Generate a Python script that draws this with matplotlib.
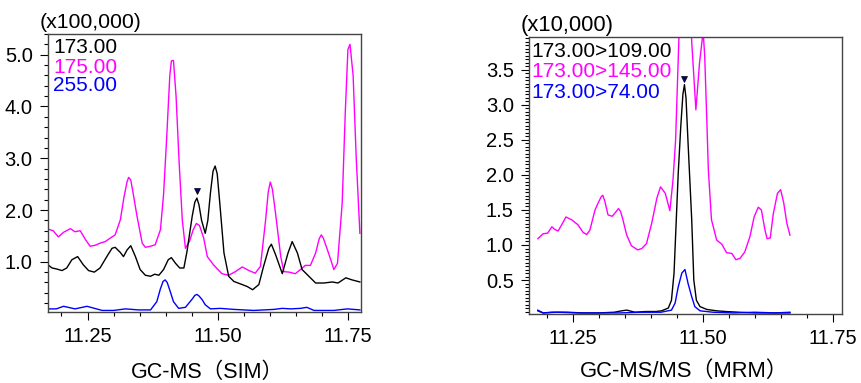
import matplotlib
matplotlib.use("Agg")
from matplotlib import pyplot as plt
from matplotlib.ticker import MultipleLocator, FormatStrFormatter

# ---- GC-MS (SIM), intensity x100,000 ----
sim_173_t = [11.174, 11.182, 11.191, 11.201, 11.210, 11.220, 11.231, 11.242, 11.252, 11.263,
             11.274, 11.287, 11.297, 11.303, 11.313, 11.319, 11.326, 11.333, 11.342, 11.351,
             11.361, 11.371, 11.379, 11.387, 11.396, 11.405, 11.411, 11.419, 11.427, 11.435,
             11.441, 11.451, 11.456, 11.460, 11.464, 11.469, 11.476, 11.481, 11.486, 11.491,
             11.495, 11.499, 11.504, 11.512, 11.521,
             11.531, 11.547, 11.557, 11.567, 11.579, 11.588, 11.598, 11.603, 11.611, 11.624,
             11.635, 11.643, 11.653, 11.662, 11.675, 11.688, 11.704, 11.720, 11.731, 11.746,
             11.758, 11.773]
sim_173_i = [0.94, 0.88, 0.86, 0.83, 0.88, 1.04, 1.10, 0.94, 0.83, 0.80,
             0.88, 1.10, 1.26, 1.28, 1.18, 1.10, 1.23, 1.31, 1.10, 0.85,
             0.74, 0.72, 0.76, 0.74, 0.85, 1.04, 1.08, 0.97, 0.88, 0.88,
             1.20, 1.88, 2.15, 2.23, 2.10, 1.80, 1.55, 1.80, 2.33, 2.75,
             2.85, 2.70, 2.13, 1.17, 0.72,
             0.62, 0.56, 0.52, 0.46, 0.56, 0.91, 1.26, 1.34, 1.14, 0.77,
             1.17, 1.39, 1.17, 0.85, 0.72, 0.59, 0.59, 0.61, 0.59, 0.69,
             0.65, 0.61]

sim_175_t = [11.174, 11.184, 11.194, 11.204, 11.217, 11.226, 11.236, 11.246, 11.255, 11.265,
             11.274, 11.284, 11.294, 11.303, 11.313, 11.320, 11.326, 11.329, 11.333, 11.338,
             11.345, 11.355,
             11.361, 11.371, 11.380, 11.390, 11.396, 11.402, 11.408, 11.411, 11.415, 11.420,
             11.426, 11.432, 11.438, 11.446, 11.453, 11.459, 11.465, 11.473, 11.480, 11.492,
             11.508, 11.521,
             11.534, 11.547, 11.560, 11.572, 11.582, 11.592, 11.597, 11.601, 11.605, 11.611,
             11.621, 11.627,
             11.637, 11.649, 11.659, 11.668, 11.678, 11.688, 11.695, 11.699, 11.703, 11.710,
             11.717, 11.723,
             11.730, 11.739, 11.745, 11.750, 11.754, 11.760, 11.766, 11.773]
sim_175_i = [1.63, 1.60, 1.48, 1.57, 1.64, 1.58, 1.60, 1.43, 1.30, 1.32,
             1.36, 1.39, 1.46, 1.52, 1.81, 2.25, 2.55, 2.63, 2.58, 2.30,
             1.88, 1.36,
             1.28, 1.30, 1.33, 1.62, 2.30, 3.40, 4.60, 4.88, 4.89, 4.20,
             2.90, 1.80, 1.26, 1.40, 1.62, 1.74, 1.70, 1.46, 1.10, 0.94,
             0.77, 0.74,
             0.81, 0.90, 0.83, 0.78, 0.91, 1.81, 2.35, 2.54, 2.40, 1.94,
             1.10, 0.81,
             0.80, 0.77, 0.85, 0.93, 0.93, 1.17, 1.45, 1.52, 1.45, 1.25,
             1.04, 0.85,
             0.97, 2.13, 3.90, 5.10, 5.20, 4.60, 3.00, 1.55]

sim_255_t = [11.174, 11.190, 11.204, 11.226, 11.249, 11.278, 11.300, 11.323, 11.348, 11.371,
             11.383, 11.390, 11.395, 11.399, 11.403, 11.409, 11.415, 11.425, 11.438, 11.451,
             11.456, 11.460, 11.464, 11.470,
             11.476, 11.486, 11.505, 11.531, 11.569, 11.608, 11.624, 11.640, 11.659, 11.671,
             11.685, 11.723, 11.749, 11.773]
sim_255_i = [0.09, 0.09, 0.14, 0.09, 0.14, 0.06, 0.06, 0.09, 0.07, 0.07,
             0.23, 0.48, 0.62, 0.65, 0.60, 0.42, 0.23, 0.10, 0.12, 0.28,
             0.35, 0.37, 0.34, 0.27,
             0.17, 0.09, 0.10, 0.08, 0.06, 0.08, 0.10, 0.09, 0.10, 0.12,
             0.06, 0.06, 0.09, 0.07]

sim_peak_t = [11.460]
sim_peak_i = [2.36]

# ---- GC-MS/MS (MRM), intensity x10,000 ----
mrm_109_t = [11.183, 11.193, 11.210, 11.240, 11.270, 11.300, 11.330, 11.344, 11.354, 11.370,
             11.390, 11.410, 11.421, 11.434, 11.440, 11.445, 11.449, 11.453, 11.458, 11.462,
             11.465, 11.468, 11.472, 11.479, 11.483, 11.488, 11.495, 11.508, 11.527, 11.545,
             11.570, 11.600, 11.630, 11.668]
mrm_109_i = [0.06, 0.03, 0.04, 0.04, 0.03, 0.03, 0.04, 0.06, 0.07, 0.04,
             0.05, 0.05, 0.06, 0.10, 0.21, 0.60, 1.31, 2.02, 2.70, 3.15,
             3.29, 3.10, 2.45, 1.36, 0.50, 0.21, 0.12, 0.08, 0.06, 0.05,
             0.04, 0.03, 0.03, 0.03]

mrm_145_t = [11.183, 11.193, 11.202, 11.210, 11.216, 11.222, 11.229, 11.237, 11.248, 11.260,
             11.270, 11.277, 11.283, 11.293, 11.299, 11.305, 11.308, 11.312, 11.318, 11.326,
             11.334, 11.338, 11.342, 11.346,
             11.354, 11.363, 11.375, 11.383, 11.392, 11.402, 11.412, 11.419, 11.428, 11.437,
             11.443, 11.448, 11.455, 11.460, 11.466, 11.472, 11.479, 11.487, 11.494, 11.501,
             11.504, 11.508, 11.511, 11.517, 11.527, 11.537, 11.546, 11.556, 11.564, 11.572,
             11.581, 11.591, 11.599, 11.607, 11.613, 11.620, 11.624, 11.630, 11.636, 11.644,
             11.650, 11.656, 11.662, 11.668]
mrm_145_i = [1.09, 1.16, 1.17, 1.26, 1.22, 1.20, 1.29, 1.40, 1.36, 1.29,
             1.18, 1.15, 1.21, 1.50, 1.60, 1.69, 1.71, 1.62, 1.43, 1.41,
             1.48, 1.52, 1.48, 1.38,
             1.14, 0.99, 0.93, 0.95, 1.02, 1.31, 1.67, 1.83, 1.74, 1.49,
             1.93, 2.50, 4.10, 5.60, 6.00, 5.40, 3.90, 2.93, 3.60, 4.05,
             3.69, 2.79, 2.07, 1.36, 1.07, 1.01, 0.89, 0.88, 0.79, 0.81,
             0.90, 1.12, 1.40, 1.54, 1.50, 1.21, 1.09, 1.10, 1.45, 1.74,
             1.79, 1.60, 1.31, 1.14]

mrm_74_t = [11.183, 11.193, 11.220, 11.260, 11.300, 11.340, 11.380, 11.420, 11.440, 11.447,
            11.453, 11.460, 11.466, 11.472, 11.479, 11.485, 11.495, 11.520, 11.560, 11.600,
            11.640, 11.668]
mrm_74_i = [0.07, 0.03, 0.04, 0.03, 0.03, 0.03, 0.04, 0.04, 0.07, 0.17,
            0.40, 0.60, 0.65, 0.45, 0.26, 0.12, 0.06, 0.04, 0.03, 0.04,
            0.03, 0.04]

mrm_peak_t = [11.465]
mrm_peak_i = [3.37]

plt.rcParams['font.family'] = ['Liberation Sans', 'Noto Sans CJK JP', 'DejaVu Sans']

fig = plt.figure(figsize=(8.61, 3.83), dpi=100)
ax1 = fig.add_axes([0.0557, 0.1854, 0.3635, 0.7258])
ax2 = fig.add_axes([0.6144, 0.1802, 0.3635, 0.7232])


def style(ax, ymajor, yminor):
    ax.xaxis.set_major_locator(MultipleLocator(0.25))
    ax.xaxis.set_minor_locator(MultipleLocator(0.05))
    ax.xaxis.set_major_formatter(FormatStrFormatter('%.2f'))
    ax.yaxis.set_major_locator(MultipleLocator(ymajor))
    ax.yaxis.set_minor_locator(MultipleLocator(yminor))
    ax.yaxis.set_major_formatter(FormatStrFormatter('%.1f'))
    ax.tick_params(which='major', direction='out', length=6, width=0.8, labelsize=14.5, pad=5)
    ax.tick_params(which='minor', direction='out', length=3, width=0.8)
    for s in ax.spines.values():
        s.set_color('#444444')
        s.set_linewidth(1.0)


# left panel
ax1.plot(sim_175_t, sim_175_i, color='#ff00ff', lw=1.0)
ax1.plot(sim_173_t, sim_173_i, color='black', lw=1.0)
ax1.plot(sim_255_t, sim_255_i, color='#0000ff', lw=1.0)
ax1.plot(sim_peak_t, sim_peak_i, 'v', color='#000080', mec='black', mew=0.5, ms=5)
ax1.set_xlim(11.174, 11.775)
ax1.set_ylim(0.03, 5.40)
style(ax1, 1.0, 0.2)
ax1.text(-0.026, 1.043, '(x100,000)', transform=ax1.transAxes, fontsize=15.3, va='center', ha='left')
ax1.text(0.017, 0.951, '173.00', transform=ax1.transAxes, fontsize=15, va='center', color='black')
ax1.text(0.017, 0.881, '175.00', transform=ax1.transAxes, fontsize=15, va='center', color='#ff00ff')
ax1.text(0.017, 0.813, '255.00', transform=ax1.transAxes, fontsize=15, va='center', color='#0000ff')
ax1.text(0.51, -0.216, 'GC-MS（SIM）', transform=ax1.transAxes, fontsize=15.5, ha='center', va='center')

# right panel
ax2.plot(mrm_145_t, mrm_145_i, color='#ff00ff', lw=1.0)
ax2.plot(mrm_109_t, mrm_109_i, color='black', lw=1.0)
ax2.plot(mrm_74_t, mrm_74_i, color='#0000ff', lw=1.0)
ax2.plot(mrm_peak_t, mrm_peak_i, 'v', color='#000080', mec='black', mew=0.5, ms=5)
ax2.set_xlim(11.166, 11.768)
ax2.set_ylim(0.015, 3.97)
style(ax2, 0.5, 0.05)
ax2.text(-0.026, 1.040, '(x10,000)', transform=ax2.transAxes, fontsize=15.8, va='center', ha='left')
ax2.text(0.009, 0.949, '173.00>109.00', transform=ax2.transAxes, fontsize=15, va='center', color='black')
ax2.text(0.009, 0.874, '173.00>145.00', transform=ax2.transAxes, fontsize=15, va='center', color='#ff00ff')
ax2.text(0.009, 0.800, '173.00>74.00', transform=ax2.transAxes, fontsize=15, va='center', color='#0000ff')
ax2.text(0.495, -0.209, 'GC-MS/MS（MRM）', transform=ax2.transAxes, fontsize=15.8, ha='center', va='center')

fig.savefig('out.png', dpi=100)
